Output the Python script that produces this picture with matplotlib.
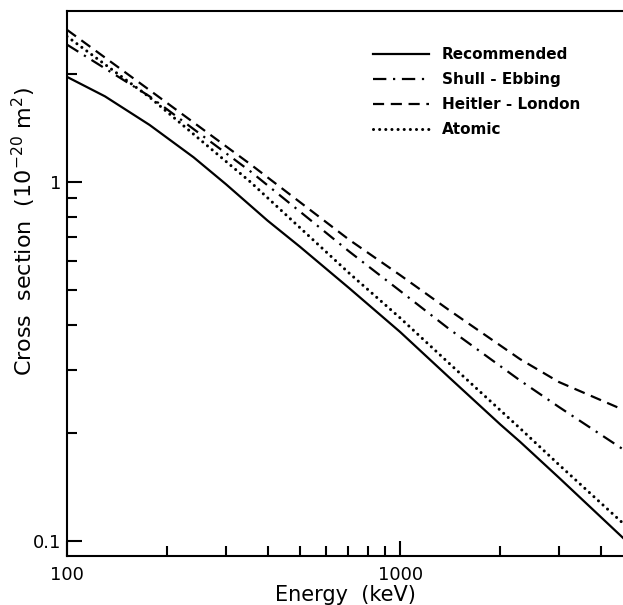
import matplotlib
matplotlib.use("Agg")
import matplotlib.pyplot as plt
from matplotlib.ticker import FixedLocator, NullFormatter, FixedFormatter

# energies (keV) and cross sections (1e-20 m^2)
energy_rec = [100, 130, 177, 240, 300, 400, 500, 703, 1000, 1400, 2000, 2290, 3000, 4670]
recommended = [1.96, 1.73, 1.44, 1.17, 0.985, 0.78, 0.66, 0.506, 0.382, 0.286, 0.211, 0.189, 0.150, 0.102]

energy_th = [100, 177, 355, 703, 1000, 1400, 2290, 3000, 4670]
shull_ebbing = [2.41, 1.73, 1.07, 0.64, 0.497, 0.390, 0.280, 0.236, 0.180]
heitler_london = [2.65, 1.80, 1.12, 0.69, 0.550, 0.440, 0.321, 0.277, 0.232]
atomic = [2.54, 1.72, 1.00, 0.557, 0.418, 0.313, 0.206, 0.163, 0.112]

x_major = [100, 1000]
x_minor = [200, 300, 400, 500, 600, 700, 800, 900, 2000, 3000, 4000]
y_major = [0.1, 1]
y_minor = [0.2, 0.3, 0.4, 0.5, 0.6, 0.7, 0.8, 0.9, 2]

fig = plt.figure(figsize=(6.23, 6.05), dpi=100)
ax = fig.add_axes([67 / 623, 49 / 605, 556 / 623, 545 / 605])

lw = 1.6
ax.plot(energy_rec, recommended, color="black", lw=lw, label="Recommended")
ax.plot(energy_th, shull_ebbing, color="black", lw=lw, dashes=(6, 3, 1, 3),
        label="Shull - Ebbing")
ax.plot(energy_th, heitler_london, color="black", lw=lw, dashes=(5, 3),
        label="Heitler - London")
ax.plot(energy_th, atomic, color="black", lw=2.2, linestyle=(0, (0.01, 2.0)),
        dash_capstyle="round", label="Atomic")

ax.set_xscale("log")
ax.set_yscale("log")
ax.set_xlim(100, 4670)
ax.set_ylim(0.0908, 2.99)

ax.xaxis.set_major_locator(FixedLocator(x_major))
ax.xaxis.set_major_formatter(FixedFormatter(["100", "1000"]))
ax.xaxis.set_minor_locator(FixedLocator(x_minor))
ax.xaxis.set_minor_formatter(NullFormatter())
ax.yaxis.set_major_locator(FixedLocator(y_major))
ax.yaxis.set_major_formatter(FixedFormatter(["0.1", "1"]))
ax.yaxis.set_minor_locator(FixedLocator(y_minor))
ax.yaxis.set_minor_formatter(NullFormatter())

ax.tick_params(which="both", direction="in", width=1.5, labelsize=13,
               top=False, right=False)
ax.tick_params(which="major", length=11)
ax.tick_params(axis="x", which="major", pad=7)
ax.tick_params(axis="y", which="major", pad=4)
ax.tick_params(which="minor", length=7)

for side in ["left", "bottom", "top"]:
    ax.spines[side].set_linewidth(1.5)
ax.spines["right"].set_visible(False)

ax.set_xlabel("Energy  (keV)", fontsize=15, labelpad=1)
ax.set_ylabel("Cross  section  (10$^{-20}$ m$^{2}$)", fontsize=16)
ax.yaxis.set_label_coords(-0.052, 0.595)

leg = ax.legend(loc="upper left", bbox_to_anchor=(0.55, 0.934), frameon=False,
                handlelength=3.7, handletextpad=0.8, labelspacing=0.66,
                borderpad=0, borderaxespad=0, prop={"size": 11, "weight": "bold"})

fig.savefig("out.png", dpi=100)
